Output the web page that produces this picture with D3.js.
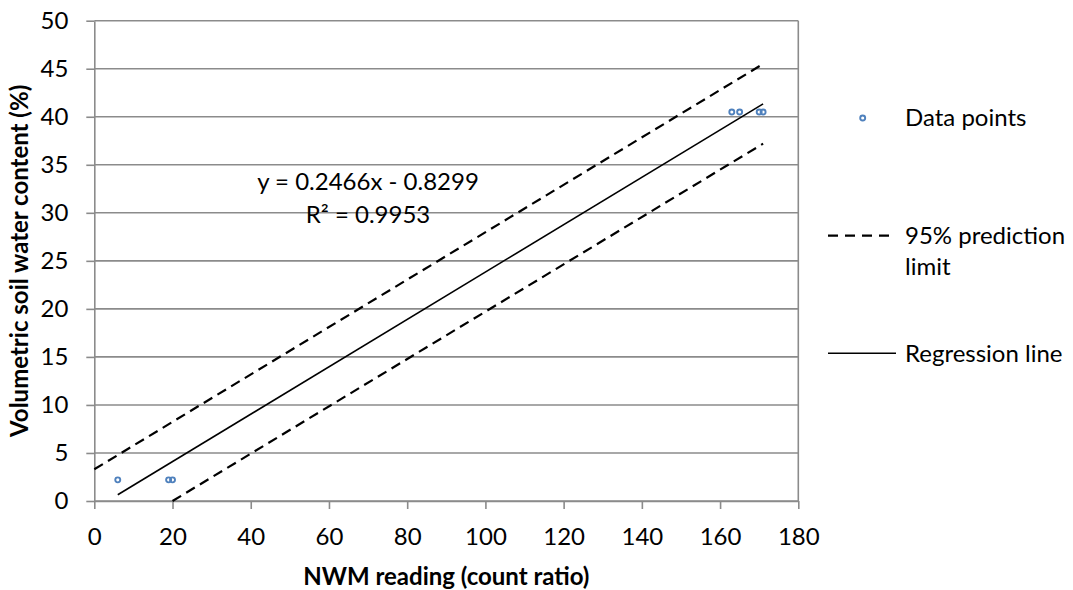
<!DOCTYPE html>
<html><head><meta charset="utf-8">
<script src="https://cdn.jsdelivr.net/npm/d3@7"></script>
<style>body{margin:0;background:#fff}svg{display:block}</style>
</head><body><svg id="c" width="1073" height="590"></svg>
<script>
// Data
const pointsX = [6, 19, 20, 163, 165, 170, 171];
const pointsY = [2.2, 2.2, 2.2, 40.5, 40.5, 40.5, 40.5];
const regX = [6, 171];
const regY = [0.65, 41.34];
const upperX = [0, 171];
const upperY = [3.3, 45.5];
const lowerX = [20, 171];
const lowerY = [0, 37.2];
const xTicks = [0, 20, 40, 60, 80, 100, 120, 140, 160, 180];
const yTicks = [0, 5, 10, 15, 20, 25, 30, 35, 40, 45, 50];
const legendLabels = [["Data points"], ["95% prediction", "limit"], ["Regression line"]];
const eqLines = ["y = 0.2466x - 0.8299", "R\u00B2 = 0.9953"];
const xTitle = "NWM reading (count ratio)";
const yTitle = "Volumetric soil water content (%)";

const FONT = "Lato, 'Open Sans', sans-serif";
const FS = 24;
const gridColor = "#8b8b8b";
const blue = "#4f81bd";

const svg = d3.select("#c");
const L = 94.3, R = 798.3, T = 20.7, B = 501;
const x = d3.scaleLinear().domain([0, 180]).range([L, R]);
const y = d3.scaleLinear().domain([0, 50]).range([B, T]);

// gridlines
svg.append("g").selectAll("line").data(yTicks).join("line")
  .attr("x1", L).attr("x2", R).attr("y1", d => y(d)).attr("y2", d => y(d))
  .attr("stroke", gridColor).attr("stroke-width", 1.6);
// right border
svg.append("line").attr("x1", R).attr("x2", R).attr("y1", T).attr("y2", B)
  .attr("stroke", gridColor).attr("stroke-width", 1.6);

// axes
const gx = svg.append("g").attr("transform", `translate(0,${B})`)
  .call(d3.axisBottom(x).tickValues(xTicks).tickSize(8).tickPadding(19).tickSizeOuter(0));
const gy = svg.append("g").attr("transform", `translate(${L},0)`)
  .call(d3.axisLeft(y).tickValues(yTicks).tickSize(8).tickPadding(18).tickSizeOuter(0));
[gx, gy].forEach(g => {
  g.selectAll("path").attr("stroke", gridColor).attr("stroke-width", 1.6);
  g.selectAll("line").attr("stroke", gridColor).attr("stroke-width", 1.6);
  g.selectAll("text").attr("font-family", FONT).attr("font-size", FS).attr("fill", "#000");
});

// lines
const line = d3.line().x(d => x(d[0])).y(d => y(d[1]));
svg.append("path").attr("d", line(upperX.map((v, i) => [v, upperY[i]])))
  .attr("fill", "none").attr("stroke", "#000").attr("stroke-width", 2.2).attr("stroke-dasharray", "10,6");
svg.append("path").attr("d", line(lowerX.map((v, i) => [v, lowerY[i]])))
  .attr("fill", "none").attr("stroke", "#000").attr("stroke-width", 2.2).attr("stroke-dasharray", "10,6");
svg.append("path").attr("d", line(regX.map((v, i) => [v, regY[i]])))
  .attr("fill", "none").attr("stroke", "#000").attr("stroke-width", 1.6);

// points
svg.append("g").selectAll("circle").data(pointsX.map((v, i) => [v, pointsY[i]])).join("circle")
  .attr("cx", d => x(d[0])).attr("cy", d => y(d[1])).attr("r", 2.5)
  .attr("fill", "none").attr("stroke", blue).attr("stroke-width", 1.9);

// equation
svg.append("g").selectAll("text").data(eqLines).join("text")
  .attr("x", 368).attr("y", (d, i) => 181.7 + i * 33.3).attr("dy", "0.35em")
  .attr("text-anchor", "middle").attr("font-family", FONT).attr("font-size", FS).text(d => d);

// axis titles
svg.append("text").attr("x", (L + R) / 2).attr("y", 577).attr("dy", "0.35em")
  .attr("text-anchor", "middle").attr("font-family", FONT).attr("font-weight", "bold")
  .attr("font-size", FS).text(xTitle);
svg.append("text").attr("transform", `translate(20,${(T + B) / 2}) rotate(-90)`).attr("dy", "0.35em")
  .attr("text-anchor", "middle").attr("font-family", FONT).attr("font-weight", "bold")
  .attr("font-size", FS).text(yTitle);

// legend
const lg = svg.append("g");
const legY = [118, 235.7, 353.3];
lg.append("circle").attr("cx", 862.7).attr("cy", legY[0]).attr("r", 2.5)
  .attr("fill", "none").attr("stroke", blue).attr("stroke-width", 1.9);
lg.append("line").attr("x1", 828).attr("x2", 892).attr("y1", legY[1]).attr("y2", legY[1])
  .attr("stroke", "#000").attr("stroke-width", 2.2).attr("stroke-dasharray", "10,7");
lg.append("line").attr("x1", 828).attr("x2", 896).attr("y1", legY[2]).attr("y2", legY[2])
  .attr("stroke", "#000").attr("stroke-width", 1.6);
legendLabels.forEach((lines, i) => {
  lines.forEach((t, j) => {
    lg.append("text").attr("x", 905).attr("y", legY[i] + j * 31).attr("dy", "0.35em")
      .attr("font-family", FONT).attr("font-size", FS).text(t);
  });
});
</script></body></html>
